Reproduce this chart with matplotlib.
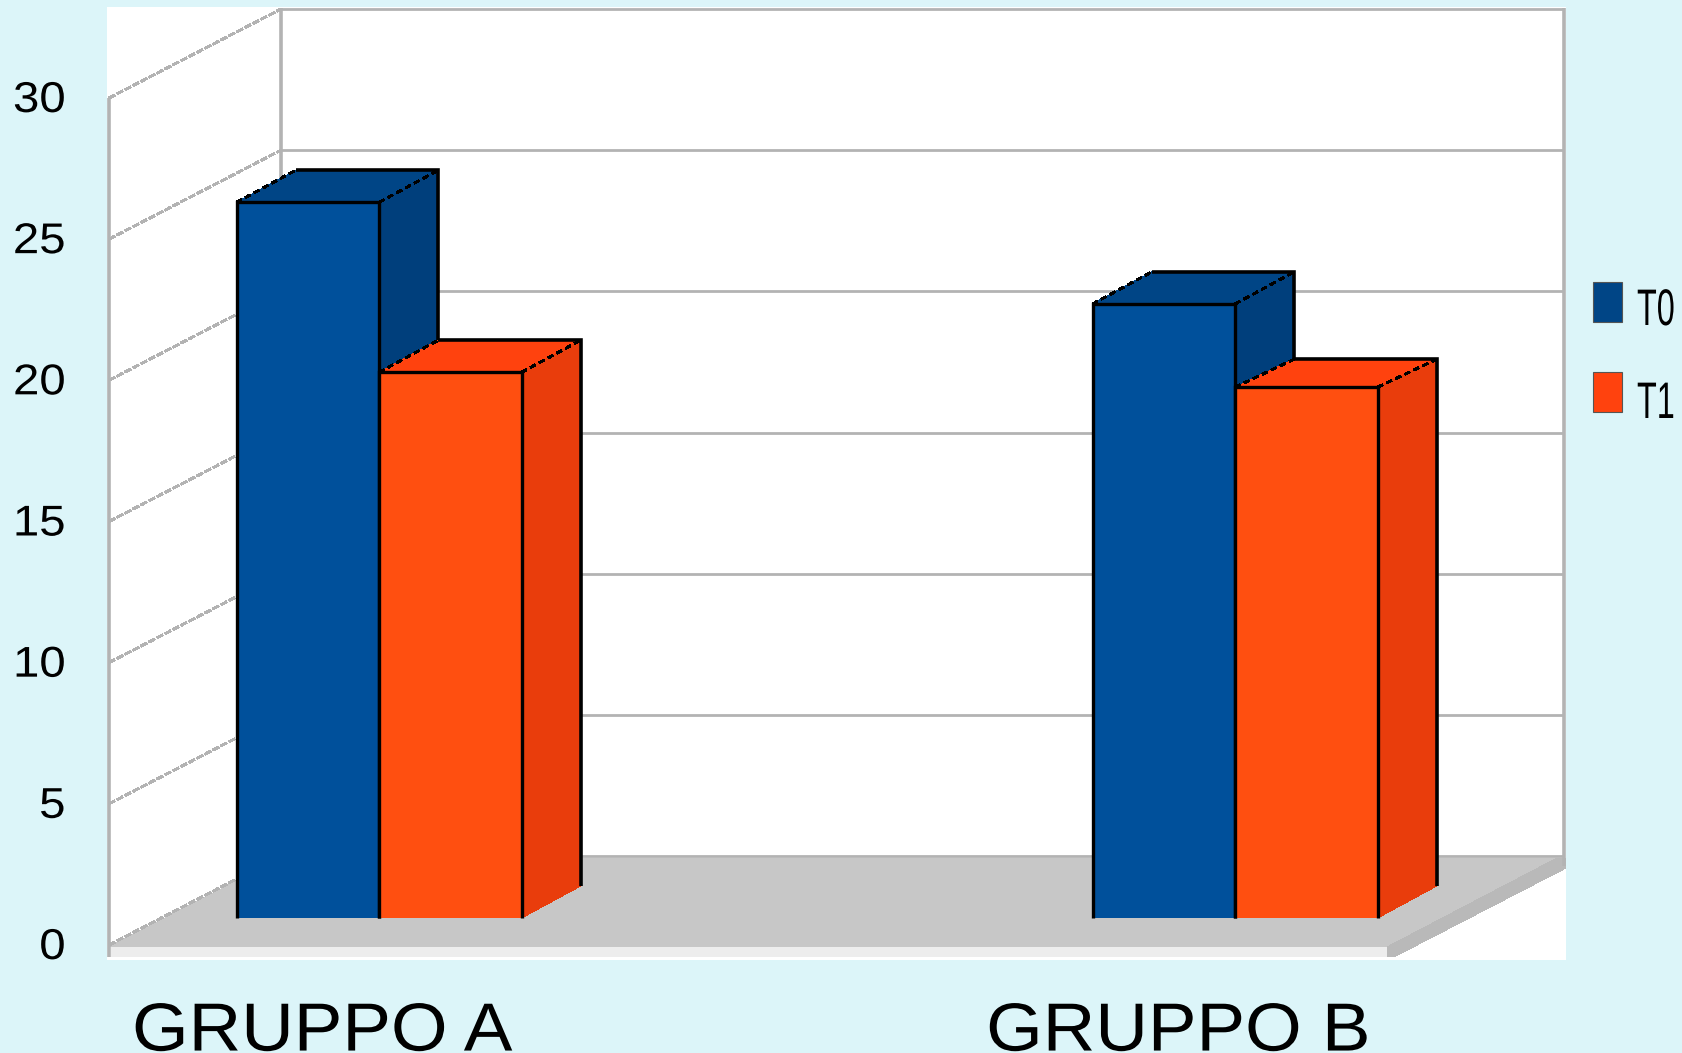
import matplotlib
matplotlib.use('Agg')
import matplotlib.pyplot as plt
from matplotlib.patches import Polygon, Rectangle
from matplotlib.patheffects import AbstractPathEffect
from matplotlib.transforms import Affine2D, IdentityTransform

# Datos del grafico
categories = ['GRUPPO A', 'GRUPPO B']
x_pos = [0, 2]
t0_values = [25.35, 21.75]
t1_values = [19.33, 18.8]
y_ticks = [0, 5, 10, 15, 20, 25, 30]
series_names = ['T0', 'T1']

W, H = 1682, 1053
BG = '#dcf5f9'
GRID = '#b3b3b3'
FLOOR = '#c7c7c7'
BLUE = ('#00509b', '#004586', '#003f7c')
ORANGE = ('#ff4f10', '#ff420e', '#e93d0c')

plt.rcParams['font.family'] = ['Liberation Sans', 'DejaVu Sans']
fig = plt.figure(figsize=(W / 100, H / 100), dpi=100, facecolor=BG)

# Plano frontal: 109-1387 px en x, valor 0 en y=945 y valor 30 en y=98
ax = fig.add_axes([109 / W, 1 - 945 / H, (1387 - 109) / W, (945 - 98) / H])
ax.patch.set_visible(False)
for s in ax.spines.values():
    s.set_visible(False)
ax.set_xlim(-0.498, 2.488)
ax.set_ylim(0, 30)
ax.set_autoscale_on(False)

ident = IdentityTransform()
WALL_DX, WALL_DY = 172, 89
BAR_DX, BAR_DY = 57, 27
DEPTH_DX, DEPTH_DY = 59, 32
BAR_W = 0.333
xmin, xmax = ax.get_xlim()


class Stretch(AbstractPathEffect):
    # Ensancha o estrecha el texto en horizontal y lo desplaza dx pixeles
    def __init__(self, sx, dx=0, dy=0):
        super().__init__()
        self.sx, self.dx, self.dy = sx, dx, dy

    def draw_path(self, renderer, gc, tpath, affine, rgbFace=None):
        tr = Affine2D().scale(self.sx, 1) + affine + Affine2D().translate(self.dx, self.dy)
        renderer.draw_path(gc, tpath, tr, rgbFace)


def pt(x, v, dx=0, dy=0):
    d = ax.transData.transform((x, v))
    return d[0] + dx, d[1] + dy


def poly(points, color, z, aa=False):
    ax.add_patch(Polygon(points, closed=True, facecolor=color, edgecolor='none',
                         transform=ident, clip_on=False, zorder=z, antialiased=aa))


def line(points, color, lw, z, dashes=None, aa=True):
    xs = [p[0] for p in points]
    ys = [p[1] for p in points]
    l, = ax.plot(xs, ys, color=color, lw=lw, transform=ident, clip_on=False, zorder=z,
                 solid_capstyle='butt', solid_joinstyle='miter', antialiased=aa)
    if dashes:
        l.set_dashes(dashes)
        l.set_dash_capstyle('butt')
    return l


# Panel blanco
ax.add_patch(Rectangle((107, H - 960), 1566 - 107, 953, facecolor='white', edgecolor='none',
                       transform=ident, clip_on=False, zorder=0))

# Suelo y sus bordes
fl, fr = pt(xmin, 0), pt(xmax, 0)
poly([(fl[0], fl[1] - 2), (fl[0] + WALL_DX, fl[1] + WALL_DY - 2), (fr[0] + WALL_DX + 5, fr[1] + WALL_DY - 2),
      (fr[0], fr[1] - 2)], FLOOR, 1)
poly([(fl[0] + 2, fl[1] - 2), (fr[0], fr[1] - 2), (fr[0], fr[1] - 12), (fl[0] + 2, fl[1] - 12)], '#ededed', 1)
poly([(fr[0], fr[1] - 2), (fr[0], fr[1] - 12), (fr[0] + 7, fr[1] - 12), (fr[0] + 179, fr[1] + WALL_DY - 12),
      (fr[0] + 179, fr[1] + WALL_DY - 2), (fr[0] + 170, fr[1] + WALL_DY - 2)], '#b9b9b9', 1)

# Lineas de la rejilla en la pared lateral y la del fondo
for v in y_ticks:
    a = pt(xmin, v)
    b = pt(xmin, v, WALL_DX, WALL_DY)
    c = pt(xmax, v, WALL_DX + 5, WALL_DY)
    line([b, c], GRID, 2, 2)
    line([a, b], GRID, 1.7, 1.5 if v == 0 else 2, dashes=(2.6, 1.2), aa=False)
top_l = pt(xmin, 30, WALL_DX, WALL_DY)
top_r = pt(xmax, 30, WALL_DX + 5, WALL_DY)
floor_l = pt(xmin, 0, WALL_DX, WALL_DY)
floor_r = pt(xmax, 0, WALL_DX + 5, WALL_DY)
line([(top_l[0], top_l[1] + 1), floor_l], GRID, 2.6, 2)
line([(top_r[0], top_r[1] + 1), (floor_r[0], floor_r[1] - 10)], GRID, 2.6, 2)
line([pt(xmin, 30), pt(xmin, 0, 0, -12)], GRID, 2.6, 2)


# Barras: caras superior y lateral, luego la frontal
def draw_bar(value, left, colors, z, depth_dy=DEPTH_DY):
    right = left + BAR_W
    front_tr = ax.transData + Affine2D().translate(BAR_DX, BAR_DY)
    tl, tr = pt(left, value, BAR_DX, BAR_DY), pt(right, value, BAR_DX, BAR_DY)
    br = pt(right, 0, BAR_DX, BAR_DY)
    bl = pt(left, 0, BAR_DX, BAR_DY)
    top_back = lambda p: (p[0] + DEPTH_DX, p[1] + depth_dy)
    low_back = (br[0] + DEPTH_DX, br[1] + DEPTH_DY)

    poly([tl, tr, top_back(tr), top_back(tl)], colors[1], z)
    poly([tr, br, low_back, top_back(tr)], colors[2], z)
    ax.bar(left + BAR_W / 2, value, BAR_W, color=colors[0], linewidth=0,
           transform=front_tr, clip_on=False, zorder=z + 0.1)

    # Contornos negros
    line([top_back(tl), top_back(tr), low_back], 'black', 2.6, z + 0.2)
    line([bl, tl, tr, br], 'black', 2.4, z + 0.3)
    line([tl, top_back(tl)], 'black', 1.7, z + 0.2, dashes=(2.2, 2), aa=False)
    line([tr, top_back(tr)], 'black', 1.7, z + 0.2, dashes=(2.2, 2), aa=False)


for i, x in enumerate(x_pos):
    draw_bar(t0_values[i], x - BAR_W, BLUE, 3 + i * 2)
    draw_bar(t1_values[i], x, ORANGE, 4 + i * 2, depth_dy=32 if i == 0 else 28)

ax.set_xlim(xmin, xmax)
ax.set_ylim(0, 30)

# Ejes
ax.set_yticks(y_ticks)
ax.set_yticklabels([str(v) for v in y_ticks], fontsize=31)
ax.tick_params(axis='y', length=0, pad=32)
for lab in ax.get_yticklabels():
    w = 24 * len(lab.get_text())
    lab.set_path_effects([Stretch(1.1, dx=1 - 0.1 * w, dy=1.5)])
ax.set_xticks(x_pos)
ax.set_xticklabels(categories, fontsize=49)
ax.tick_params(axis='x', length=0, pad=40)
for lab in ax.get_xticklabels():
    lab.set_path_effects([Stretch(1.07, dx=-12.4)])

# Leyenda
legend_colors = [BLUE[1], ORANGE[1]]
legend_tops = [282, 372]
legend_base = [325, 418]
for name, col, top, base in zip(series_names, legend_colors, legend_tops, legend_base):
    fig.add_artist(Rectangle((1593 / W, 1 - (top + 40) / H), 29 / W, 40 / H, transform=fig.transFigure,
                             facecolor=col, edgecolor='#555555', linewidth=0.8))
    t = fig.text(1620 / W, 1 - base / H, name, fontsize=37, ha='left', va='baseline', color='black')
    t.set_path_effects([Stretch(0.63, dx=17)])

fig.savefig('out.png', dpi=100, facecolor=BG)
